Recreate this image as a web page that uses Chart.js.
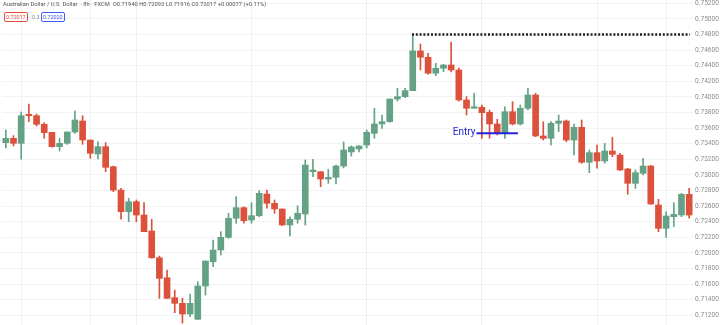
<!DOCTYPE html>
<html>
<head>
<title>AUD/USD 8h</title>
<script src="https://cdn.jsdelivr.net/npm/chart.js"></script>
<style>
  body { margin: 0; background: #fff; font-family: Roboto, "Noto Sans", sans-serif; }
  #wrap { position: relative; width: 720px; height: 325px; }
  canvas { display: block; }
  .hdr { position: absolute; left: 3px; top: 1px; font-size: 5.8px; color: #555; white-space: nowrap; }
  .box { position: absolute; top: 12px; height: 8px; line-height: 8px; font-size: 5.4px; padding: 0 1px; border: 1px solid; border-radius: 2px; }
</style>
</head>
<body>
<div id="wrap">
  <canvas id="fx" width="720" height="325"></canvas>
  <div class="hdr">Australian Dollar / U.S. Dollar &nbsp;· 8h · FXCM &nbsp;O0.71940 H0.72093 L0.71916 C0.72017 +0.00077 (+0.11%)</div>
  <div class="box" style="left:4px;color:#e0503c;border-color:#e0503c">0.72017</div>
  <div class="box" style="left:30px;color:#888;border-color:transparent">0.3</div>
  <div class="box" style="left:41px;color:#3d5afe;border-color:#3d5afe">0.72020</div>
</div>
<script>
// AUD/USD 8h candles
const open  = [0.73413,0.73469,0.73405,0.73777,0.73759,0.73649,0.73546,0.73362,0.73405,0.73550,
               0.73691,0.73447,0.73268,0.73362,0.73105,0.72806,0.72528,0.72656,0.72486,0.72281,
               0.71938,0.71682,0.71426,0.71354,0.71217,0.71149,0.71576,0.71887,0.72037,0.72200,
               0.72444,0.72580,0.72422,0.72477,0.72755,0.72636,0.72563,0.72358,0.72431,0.72499,
               0.73041,0.73041,0.72947,0.72969,0.73114,0.73294,0.73332,0.73383,0.73533,0.73653,
               0.73682,0.73973,0.74003,0.74080,0.74589,0.74508,0.74303,0.74367,0.74409,0.74345,
               0.73960,0.73854,0.73867,0.73803,0.73653,0.73533,0.73810,0.73653,0.73854,0.74024,
               0.73499,0.73469,0.73662,0.73691,0.73447,0.73610,0.73162,0.73285,0.73178,0.73306,
               0.73255,0.73076,0.72892,0.73021,0.73114,0.72614,0.72315,0.72464,0.72486,0.72751];
const high  = [0.73576,0.73503,0.73806,0.73909,0.73781,0.73669,0.73546,0.73469,0.73550,0.73819,
               0.73759,0.73447,0.73426,0.73413,0.73114,0.72828,0.72700,0.72678,0.72644,0.72431,
               0.71960,0.71781,0.71524,0.71418,0.71473,0.71631,0.71896,0.72165,0.72272,0.72508,
               0.72721,0.72592,0.72644,0.72797,0.72806,0.72678,0.72563,0.72464,0.72605,0.73191,
               0.73200,0.73041,0.73072,0.73127,0.73422,0.73371,0.73377,0.73576,0.73854,0.73768,
               0.73973,0.74110,0.74110,0.74800,0.74678,0.74559,0.74431,0.74418,0.74704,0.74371,
               0.74003,0.74046,0.73896,0.73832,0.73713,0.73874,0.73939,0.73896,0.74110,0.74046,
               0.73682,0.73682,0.73768,0.73704,0.73653,0.73704,0.73319,0.73383,0.73405,0.73482,
               0.73277,0.73085,0.73063,0.73213,0.73123,0.72687,0.72528,0.72644,0.72764,0.72828];
const low   = [0.73345,0.73371,0.73200,0.73682,0.73627,0.73469,0.73354,0.73306,0.73392,0.73533,
               0.73392,0.73213,0.73204,0.73041,0.72785,0.72431,0.72400,0.72400,0.72272,0.71931,
               0.71418,0.71418,0.71233,0.71101,0.71182,0.71149,0.71460,0.71823,0.71973,0.72187,
               0.72380,0.72380,0.72380,0.72464,0.72572,0.72508,0.72349,0.72217,0.72380,0.72358,
               0.72977,0.72849,0.72892,0.72883,0.73089,0.73242,0.73294,0.73345,0.73469,0.73597,
               0.73674,0.73947,0.73990,0.74080,0.74345,0.74290,0.74272,0.74323,0.74319,0.73947,
               0.73768,0.73854,0.73469,0.73469,0.73512,0.73469,0.73640,0.73640,0.73832,0.73490,
               0.73447,0.73383,0.73554,0.73426,0.73255,0.73149,0.73028,0.73085,0.73149,0.73233,
               0.73054,0.72751,0.72828,0.72999,0.72623,0.72272,0.72200,0.72336,0.72464,0.72444];
const close = [0.73469,0.73405,0.73759,0.73759,0.73649,0.73541,0.73362,0.73405,0.73550,0.73704,
               0.73447,0.73277,0.73362,0.73097,0.72806,0.72528,0.72656,0.72486,0.72272,0.71938,
               0.71674,0.71418,0.71354,0.71217,0.71354,0.71576,0.71896,0.72037,0.72200,0.72444,
               0.72580,0.72413,0.72477,0.72764,0.72636,0.72563,0.72358,0.72431,0.72508,0.73127,
               0.73063,0.72947,0.72969,0.73114,0.73319,0.73358,0.73371,0.73546,0.73653,0.73682,
               0.73973,0.74003,0.74080,0.74589,0.74508,0.74303,0.74367,0.74409,0.74345,0.73960,
               0.73854,0.73874,0.73797,0.73653,0.73533,0.73810,0.73653,0.73854,0.74024,0.73499,
               0.73469,0.73662,0.73691,0.73447,0.73610,0.73162,0.73285,0.73178,0.73306,0.73264,
               0.73063,0.72892,0.73028,0.73114,0.72627,0.72315,0.72473,0.72495,0.72751,0.72486];

const yTicks = [0.752,0.750,0.748,0.746,0.744,0.742,0.740,0.738,0.736,0.734,0.732,
                0.730,0.728,0.726,0.724,0.722,0.720,0.718,0.716,0.714,0.712];
const yMin = 0.71076, yMax = 0.75242;
const timeGridIdx = [2, 11, 17, 32, 47, 62, 77, 86];   // candles where the time grid falls

const resistance = { price: 0.748, from: 52.9, to: 89.1 };
const entry = { price: 0.73533, from: 61.3, to: 66.7, label: 'Entry' };

const upCol = '#64a286', downCol = '#db513b', entryCol = '#2323d8';
const candleCol = open.map((o, i) => close[i] >= o ? upCol : downCol);
const idx = open.map((_, i) => i);

const entryLabel = {
  id: 'entryLabel',
  afterDatasetsDraw(chart) {
    const { ctx, scales } = chart;
    const x = scales.xl.getPixelForValue(entry.from);
    const y = scales.y.getPixelForValue(entry.price);
    ctx.save();
    ctx.font = '10px Roboto';
    ctx.fillStyle = entryCol;
    ctx.textAlign = 'right';
    ctx.textBaseline = 'middle';
    ctx.fillText(entry.label, x - 1, y - 0.5);
    ctx.restore();
  }
};

// drop the padding Chart.js reserves for edge labels, the plot runs edge to edge
const noPad = s => { s.paddingTop = 0; s.paddingBottom = 0; s.paddingLeft = 0; s.paddingRight = 0; };

new Chart(document.getElementById('fx'), {
  type: 'bar',
  data: {
    labels: idx,
    datasets: [
      { label: 'wick', data: low.map((l, i) => [l, high[i]]), backgroundColor: candleCol,
        barThickness: 1, grouped: false, order: 3 },
      { label: 'body', data: open.map((o, i) => [o, close[i]]), backgroundColor: candleCol,
        barThickness: 6, minBarLength: 1, grouped: false, order: 2 },
      { type: 'line', xAxisID: 'xl', order: 1,
        data: [{ x: resistance.from, y: resistance.price }, { x: resistance.to, y: resistance.price }],
        borderColor: '#1e1e1e', borderWidth: 2.5, borderDash: [2, 1.8], pointRadius: 0 },
      { type: 'line', xAxisID: 'xl', order: 0,
        data: [{ x: entry.from, y: entry.price }, { x: entry.to, y: entry.price }],
        borderColor: entryCol, borderWidth: 2, pointRadius: 0 }
    ]
  },
  options: {
    responsive: false,
    animation: false,
    layout: { autoPadding: false, padding: { left: 2, right: 0, top: 0, bottom: 0 } },
    plugins: { legend: { display: false }, tooltip: { enabled: false } },
    scales: {
      x: {
        offset: true,
        ticks: { display: false, autoSkip: false },
        grid: { offset: false, drawTicks: false,
                color: c => timeGridIdx.includes(c.index) ? '#eef0f3' : 'rgba(0,0,0,0)' },
        border: { display: false },
        afterFit: s => { s.height = 0; noPad(s); }
      },
      xl: { type: 'linear', display: false, offset: false, min: -0.5, max: 89.5 },
      y: {
        position: 'right',
        min: yMin, max: yMax,
        afterBuildTicks: s => { s.ticks = yTicks.map(v => ({ value: v })); },
        ticks: { callback: v => v.toFixed(5), color: '#8d8d8d', padding: 2,
                 font: { size: 6.6, family: 'Roboto' } },
        grid: { color: '#f1f2f5', drawTicks: false },
        border: { display: false },
        afterFit: s => { s.width = 27; noPad(s); }
      }
    }
  },
  plugins: [entryLabel]
});
</script>
</body>
</html>
